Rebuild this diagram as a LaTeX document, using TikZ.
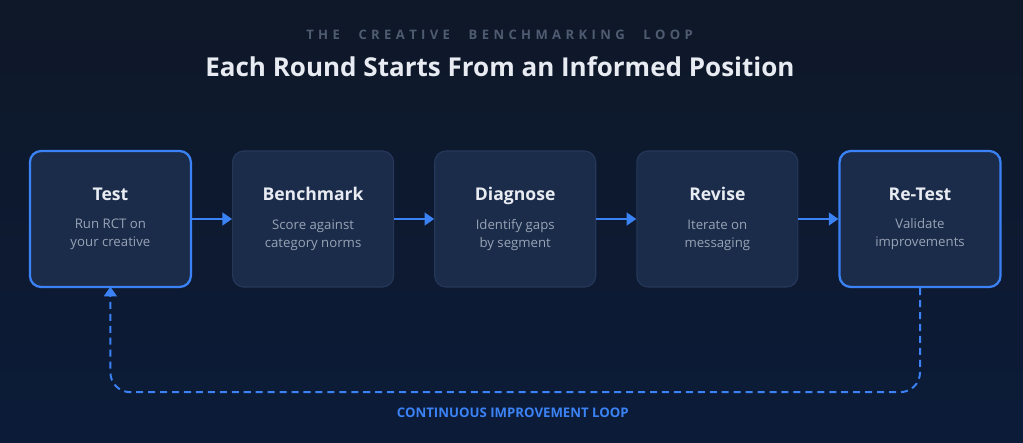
\documentclass[tikz,border=0pt]{standalone}
\usepackage{fontspec}
\setmainfont{Open Sans}
\usetikzlibrary{arrows.meta,positioning}
\definecolor{bgtop}{HTML}{0E1828}
\definecolor{bgbot}{HTML}{0C1B38}
\definecolor{boxfill}{HTML}{1B2C4A}
\definecolor{boxline}{HTML}{26385A}
\definecolor{accent}{HTML}{3B82F6}
\definecolor{headtext}{HTML}{E8ECF2}
\definecolor{subtext}{HTML}{98A3B5}
\definecolor{kicker}{HTML}{6B7689}

\tikzset{
	stage/.style={rectangle,rounded corners=8pt,fill=boxfill,draw=boxline,line width=0.8pt,
		minimum width=4.025cm,minimum height=3.4cm,align=center,inner sep=0pt,
		text=subtext,font=\fontsize{9.4}{13}\selectfont},
	hot/.style={draw=accent,line width=1.6pt},
	flow/.style={-{Triangle[length=2.4mm,width=3.2mm]},accent,line width=1.4pt},
}

\newcommand{\stagebox}[2]{\textcolor{headtext}{\fontsize{12.5}{15}\selectfont\bfseries #1}\\[7pt]#2}

\begin{document}
\begin{tikzpicture}[node distance=1cm]
	\shade[top color=bgtop,bottom color=bgbot] (0,0) rectangle (25.575,11.05);
	\useasboundingbox (0,0) rectangle (25.575,11.05);

	\node[kicker!120,font=\fontsize{9.3}{10}\selectfont\bfseries] (kick) at (12.49,10.17)
		{T\,\,H\,\,E\quad\, C\,\,R\,\,E\,\,A\,\,T\,\,I\,\,V\,\,E\quad\, B\,\,E\,\,N\,\,C\,\,H\,\,M\,\,A\,\,R\,\,K\,\,I\,\,N\,\,G\quad\, L\,\,O\,\,O\,\,P};
	\node[headtext,font=\fontsize{18.5}{21}\selectfont\bfseries] (title) at (12.5,9.38)
		{Each Round Starts From an Informed Position};

	\node[stage,hot] (test) at (2.76,5.575) {\stagebox{Test}{Run RCT on\\your creative}};
	\node[stage,right=of test] (bench) {\stagebox{Benchmark}{Score against\\category norms}};
	\node[stage,right=of bench] (diag) {\stagebox{Diagnose}{Identify gaps\\by segment}};
	\node[stage,right=of diag] (rev) {\stagebox{Revise}{Iterate on\\messaging}};
	\node[stage,hot,right=of rev] (retest) {\stagebox{Re-Test}{Validate\\improvements}};

	\draw[flow] (test) -- (bench);
	\draw[flow] (bench) -- (diag);
	\draw[flow] (diag) -- (rev);
	\draw[flow] (rev) -- (retest);

	\coordinate (loopR) at ([yshift=-2.6cm]retest.south);
	\coordinate (loopL) at ([yshift=-2.6cm]test.south);
	\draw[flow,dashed,dash pattern=on 5pt off 3.5pt,rounded corners=14pt]
		(retest.south) -- (loopR) -- (loopL) -- ([yshift=1pt]test.south);
	\node[accent,font=\fontsize{9.4}{11}\selectfont\bfseries] (looplabel) at (12.82,0.72)
		{CONTINUOUS IMPROVEMENT LOOP};
\end{tikzpicture}
\end{document}
